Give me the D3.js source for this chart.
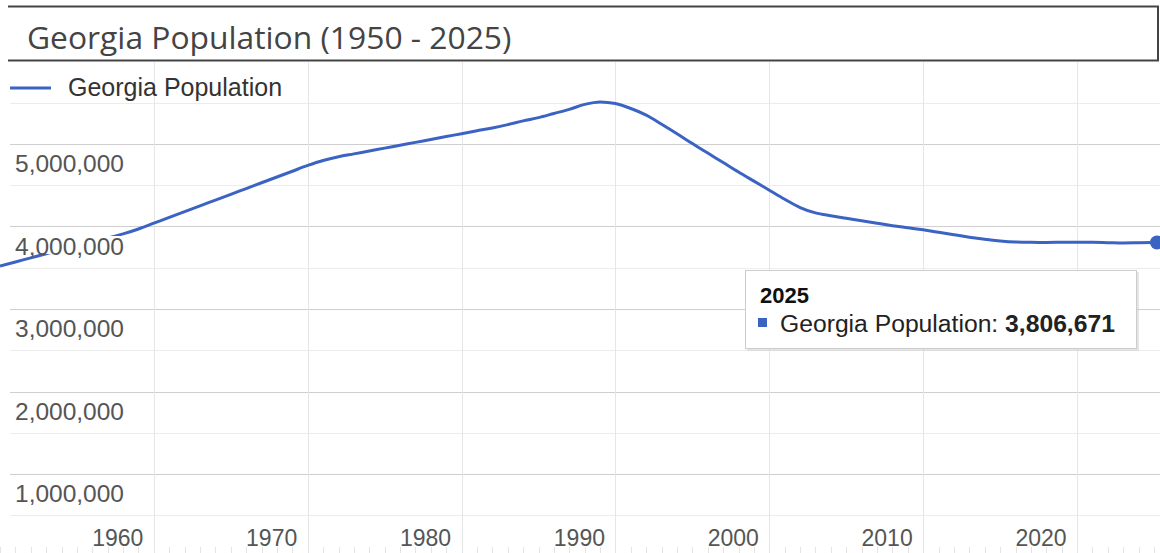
<!DOCTYPE html>
<html>
<head>
<meta charset="utf-8">
<script src="https://cdn.jsdelivr.net/npm/d3@7"></script>
<style>
  html, body { margin: 0; padding: 0; background: #fff; }
  svg { display: block; font-family: Arial, "Liberation Sans", sans-serif; }
</style>
</head>
<body>
<svg id="chart" width="1160" height="553"></svg>
<script>
const title = "Georgia Population (1950 - 2025)";
const seriesName = "Georgia Population";
const years = d3.range(1950, 2026);
const population = [
  3520000, 3570000, 3620000, 3670000, 3720000, 3770000, 3820000, 3860000, 3910000, 3970000,
  4040000, 4110000, 4180000, 4250000, 4320000, 4390000, 4460000, 4530000, 4600000, 4670000,
  4740000, 4800000, 4845000, 4880000, 4915000, 4950000, 4985000, 5020000, 5055000, 5090000,
  5125000, 5160000, 5195000, 5235000, 5280000, 5320000, 5370000, 5420000, 5480000, 5510000,
  5490000, 5430000, 5350000, 5240000, 5125000, 5005000, 4890000, 4775000, 4660000, 4550000,
  4440000, 4330000, 4230000, 4165000, 4130000, 4100000, 4070000, 4040000, 4010000, 3985000,
  3960000, 3930000, 3900000, 3870000, 3845000, 3825000, 3812000, 3808000, 3807000, 3808000,
  3809000, 3808000, 3804000, 3800000, 3803000, 3806671
];
const yTicks = [1000000, 2000000, 3000000, 4000000, 5000000];
const yMinorTicks = [500000, 1500000, 2500000, 3500000, 4500000, 5500000];
const xTicks = [1960, 1970, 1980, 1990, 2000, 2010, 2020];
const tooltipYear = "2025";
const tooltipValue = 3806671;

const data = years.map((y, i) => ({ year: y, value: population[i] }));
const svg = d3.select("#chart");
const lineColor = "#3b63c4";

const x = d3.scaleLinear().domain([1950, 2025]).range([0, 1154]);
const y = d3.scaleLinear().domain([0, 5000000]).range([556.5, 144]);

// gridlines
const grid = svg.append("g");
grid.selectAll("line.minor").data(yMinorTicks).join("line")
  .attr("x1", 10).attr("x2", 1160)
  .attr("y1", d => Math.round(y(d)) + 0.5).attr("y2", d => Math.round(y(d)) + 0.5)
  .attr("stroke", "#ececec").attr("stroke-width", 1);
grid.selectAll("line.major").data(yTicks).join("line")
  .attr("x1", 10).attr("x2", 1160)
  .attr("y1", d => Math.round(y(d)) + 0.5).attr("y2", d => Math.round(y(d)) + 0.5)
  .attr("stroke", "#cfcfcf").attr("stroke-width", 1);
grid.selectAll("line.v").data(xTicks).join("line")
  .attr("x1", d => Math.round(x(d)) + 0.5).attr("x2", d => Math.round(x(d)) + 0.5)
  .attr("y1", 62).attr("y2", 553)
  .attr("stroke", "#e6e6e6").attr("stroke-width", 1);

// small year ticks at the bottom
svg.append("g").selectAll("line").data(years).join("line")
  .attr("x1", d => Math.round(x(d)) + 0.5).attr("x2", d => Math.round(x(d)) + 0.5)
  .attr("y1", 547).attr("y2", 553)
  .attr("stroke", "#e4e4e4").attr("stroke-width", 1);

// line
const line = d3.line().x(d => x(d.year)).y(d => y(d.value)).curve(d3.curveMonotoneX);
svg.append("path").datum(data)
  .attr("d", line).attr("fill", "none")
  .attr("stroke", lineColor).attr("stroke-width", 3).attr("stroke-linejoin", "round");

// y labels (white background, drawn over line)
const yAxis = d3.axisLeft(y).tickValues(yTicks).tickFormat(d3.format(",")).tickSize(0);
const yg = svg.append("g").attr("transform", "translate(15,19)").call(yAxis);
yg.select(".domain").remove();
yg.selectAll("text")
  .attr("x", 0).attr("text-anchor", "start").attr("dy", "0.35em")
  .attr("fill", "#555").attr("font-size", 24.5)
  .attr("font-family", "Arial, 'Liberation Sans', sans-serif");
yg.selectAll(".tick").each(function () {
  const t = d3.select(this).select("text");
  const bb = t.node().getBBox();
  d3.select(this).insert("rect", "text")
    .attr("x", bb.x - 1).attr("y", -10).attr("width", bb.width + 3).attr("height", 18)
    .attr("fill", "#fff");
});

// x labels
const xAxis = d3.axisBottom(x).tickValues(xTicks).tickFormat(d3.format("d")).tickSize(0);
const xg = svg.append("g").attr("transform", "translate(-11,538)").call(xAxis);
xg.select(".domain").remove();
xg.selectAll("text")
  .attr("text-anchor", "end").attr("y", 0).attr("dy", "0.35em")
  .attr("fill", "#555").attr("font-size", 23)
  .attr("font-family", "Arial, 'Liberation Sans', sans-serif");

// end dot
const last = data[data.length - 1];
svg.append("circle").attr("cx", x(last.year) + 3).attr("cy", y(last.value))
  .attr("r", 7).attr("fill", lineColor);

// title box
svg.append("rect").attr("x", 10).attr("y", 6).attr("width", 1150).attr("height", 54).attr("fill", "#fff");
svg.append("line").attr("x1", 8).attr("x2", 1159).attr("y1", 6.5).attr("y2", 6.5).attr("stroke", "#444").attr("stroke-width", 2);
svg.append("line").attr("x1", 8).attr("x2", 1159).attr("y1", 60.5).attr("y2", 60.5).attr("stroke", "#444").attr("stroke-width", 2);
svg.append("line").attr("x1", 1158).attr("x2", 1158).attr("y1", 6).attr("y2", 61).attr("stroke", "#444").attr("stroke-width", 2);
svg.append("text").attr("x", 27).attr("y", 49).text(title)
  .attr("font-family", "'Open Sans', 'Noto Sans', sans-serif").attr("font-size", 31.8).attr("fill", "#444");

// legend
svg.append("line").attr("x1", 10).attr("x2", 51).attr("y1", 88).attr("y2", 88)
  .attr("stroke", lineColor).attr("stroke-width", 3);
svg.append("text").attr("x", 68).attr("y", 87).attr("dy", "0.35em").text(seriesName)
  .attr("font-size", 25).attr("fill", "#333");

// tooltip
const tt = svg.append("g");
tt.append("rect").attr("x", 747).attr("y", 272).attr("width", 392).attr("height", 79)
  .attr("fill", "#ccc").attr("opacity", 0.5);
tt.append("rect").attr("x", 745.5).attr("y", 270.5).attr("width", 391).attr("height", 78)
  .attr("fill", "#fff").attr("stroke", "#ccc").attr("stroke-width", 1);
tt.append("text").attr("x", 760).attr("y", 295).attr("dy", "0.35em").text(tooltipYear)
  .attr("font-size", 22).attr("font-weight", "bold").attr("fill", "#111");
tt.append("rect").attr("x", 758).attr("y", 318).attr("width", 9).attr("height", 9).attr("fill", lineColor);
const t2 = tt.append("text").attr("x", 780).attr("y", 323).attr("dy", "0.35em")
  .attr("font-size", 24.7).attr("fill", "#222");
t2.append("tspan").text(seriesName + ": ");
t2.append("tspan").attr("font-weight", "bold").text(d3.format(",")(tooltipValue));
</script>
</body>
</html>
